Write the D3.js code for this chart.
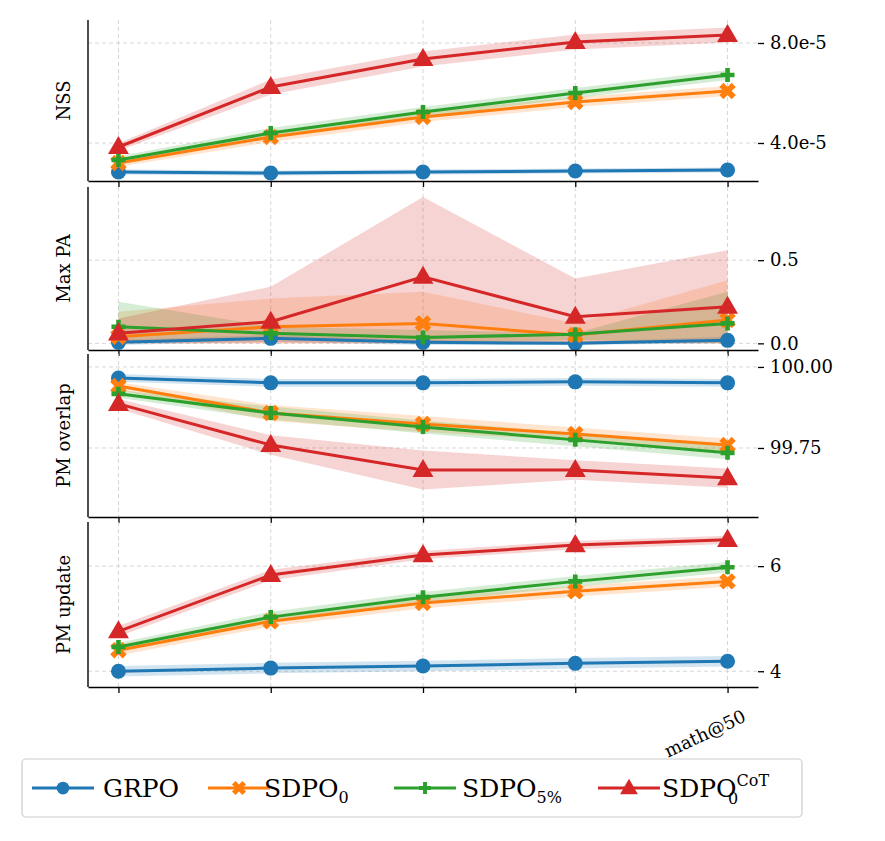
<!DOCTYPE html>
<html><head><meta charset="utf-8">
<script src="https://cdn.jsdelivr.net/npm/d3@7/dist/d3.min.js"></script>
<style>body{margin:0;background:#fff}text{font-family:"DejaVu Serif",serif}</style>
</head><body><svg id="c" width="885" height="841"></svg>
<script>
const steps = [0,1,2,3,4];
const xTickLabels = ["","","","","math@50"];
const seriesNames = ["GRPO","SDPO0","SDPO5","SDPOCoT"];
const colors = ["#1f77b4","#ff7f0e","#2ca02c","#d62728"];
const markers = ["circle","x","plus","triangle"];
// NSS
const nssMean = [[2.84e-5,2.8e-5,2.84e-5,2.88e-5,2.92e-5],[3.2e-5,4.24e-5,5.04e-5,5.64e-5,6.08e-5],[3.32e-5,4.4e-5,5.24e-5,6.0e-5,6.72e-5],[3.84e-5,6.24e-5,7.36e-5,8.04e-5,8.32e-5]];
const nssErr = [[0.1e-5,0.1e-5,0.1e-5,0.1e-5,0.1e-5],[0.15e-5,0.2e-5,0.2e-5,0.2e-5,0.2e-5],[0.15e-5,0.2e-5,0.2e-5,0.2e-5,0.2e-5],[0.15e-5,0.3e-5,0.3e-5,0.3e-5,0.3e-5]];
// Max PA
const paMean = [[0.006,0.03,0.006,0.0,0.018],[0.04,0.1,0.12,0.05,0.14],[0.1,0.06,0.035,0.055,0.12],[0.06,0.13,0.40,0.16,0.22]];
const paLow = [[-0.01,0.01,-0.01,-0.01,0.0],[0.0,0.0,0.0,0.0,0.0],[0.0,0.02,0.0,0.02,0.0],[0.0,0.0,0.0,0.0,0.0]];
const paHigh = [[0.02,0.05,0.02,0.01,0.04],[0.19,0.27,0.31,0.12,0.38],[0.25,0.1,0.08,0.06,0.31],[0.15,0.34,0.88,0.39,0.56]];
// PM overlap
const ovMean = [[99.966,99.951,99.951,99.954,99.951],[99.941,99.858,99.824,99.793,99.759],[99.917,99.858,99.815,99.775,99.735],[99.886,99.759,99.682,99.682,99.657]];
const ovErr = [[0.012,0.012,0.012,0.012,0.012],[0.012,0.025,0.025,0.02,0.02],[0.012,0.02,0.02,0.02,0.02],[0.015,0.03,0.06,0.03,0.03]];
// PM update
const upMean = [[4.0,4.06,4.1,4.15,4.19],[4.4,4.95,5.3,5.52,5.71],[4.46,5.03,5.41,5.71,5.98],[4.76,5.83,6.21,6.4,6.5]];
const upErr = [[0.1,0.1,0.1,0.1,0.1],[0.1,0.1,0.1,0.1,0.1],[0.08,0.1,0.1,0.1,0.1],[0.1,0.1,0.08,0.08,0.08]];

const panels = [
 {label:"NSS", top:20, bot:181, dom:[2.48e-5,8.92e-5], ticks:[4e-5,8e-5], fmt:d=>(d/1e-5).toFixed(1)+"e-5",
  mean:nssMean, lo:nssMean.map((s,i)=>s.map((v,j)=>v-nssErr[i][j])), hi:nssMean.map((s,i)=>s.map((v,j)=>v+nssErr[i][j]))},
 {label:"Max PA", top:187, bot:350, dom:[-0.04,0.94], ticks:[0,0.5], fmt:d=>d.toFixed(1), mean:paMean, lo:paLow, hi:paHigh},
 {label:"PM overlap", top:354, bot:517, dom:[99.537,100.04], ticks:[99.75,100], fmt:d=>d.toFixed(2),
  mean:ovMean, lo:ovMean.map((s,i)=>s.map((v,j)=>v-ovErr[i][j])), hi:ovMean.map((s,i)=>s.map((v,j)=>v+ovErr[i][j]))},
 {label:"PM update", top:522, bot:687, dom:[3.7,6.84], ticks:[4,6], fmt:d=>d3.format("d")(d),
  mean:upMean, lo:upMean.map((s,i)=>s.map((v,j)=>v-upErr[i][j])), hi:upMean.map((s,i)=>s.map((v,j)=>v+upErr[i][j]))}
];
const svg = d3.select("#c");
const x = d3.scaleLinear().domain([-0.2,4.2]).range([88,758]);
function marker(g,type,col,cx,cy,s){
  if(type==="circle") g.append("circle").attr("cx",cx).attr("cy",cy).attr("r",7.5*s).attr("fill",col);
  else if(type==="triangle") g.append("path").attr("d",d3.symbol(d3.symbolTriangle,190*s*s)()).attr("transform",`translate(${cx},${cy+1})`).attr("fill",col);
  else if(type==="plus") g.append("path").attr("d",`M-7,-2.3H-2.3V-7H2.3V-2.3H7V2.3H2.3V7H-2.3V2.3H-7Z`).attr("transform",`translate(${cx},${cy}) scale(${s})`).attr("fill",col);
  else g.append("path").attr("d",d3.symbol(d3.symbolCross,170*s*s)()).attr("transform",`translate(${cx},${cy}) rotate(45)`).attr("fill",col);
}
panels.forEach((p,pi)=>{
  const y = d3.scaleLinear().domain(p.dom).range([p.bot,p.top]);
  const g = svg.append("g");
  steps.forEach(s=>g.append("line").attr("x1",x(s)).attr("x2",x(s)).attr("y1",p.top).attr("y2",p.bot).attr("stroke","#ccc").attr("stroke-dasharray","4,3").attr("stroke-width",0.8));
  p.ticks.forEach(t=>g.append("line").attr("x1",88).attr("x2",758).attr("y1",y(t)).attr("y2",y(t)).attr("stroke","#ccc").attr("stroke-dasharray","4,3").attr("stroke-width",0.8));
  p.mean.forEach((m,si)=>{
    const area = d3.area().x((d,j)=>x(j)).y0((d,j)=>y(p.lo[si][j])).y1((d,j)=>y(p.hi[si][j]));
    g.append("path").datum(m).attr("d",area).attr("fill",colors[si]).attr("opacity",0.2);
  });
  p.mean.forEach((m,si)=>{
    g.append("path").datum(m).attr("d",d3.line().x((d,j)=>x(j)).y(d=>y(d))).attr("fill","none").attr("stroke",colors[si]).attr("stroke-width",3);
    m.forEach((v,j)=>marker(g,markers[si],colors[si],x(j),y(v),1));
  });
  const ra = d3.axisRight(y).tickValues(p.ticks).tickFormat(p.fmt).tickSize(6).tickPadding(6);
  const rg = g.append("g").attr("transform","translate(758,0)").call(ra);
  rg.select(".domain").remove();
  rg.selectAll("text").attr("font-size",18).attr("font-family","DejaVu Serif");
  rg.selectAll("line").attr("stroke-width",1.3);
  const bx = d3.axisBottom(x).tickValues(steps).tickFormat((d,i)=>pi===3?xTickLabels[i]:"").tickSize(6).tickSizeOuter(0);
  const bg = g.append("g").attr("transform",`translate(0,${p.bot})`).call(bx);
  bg.select(".domain").attr("stroke-width",1.4);
  bg.selectAll("line").attr("stroke-width",1.3);
  bg.selectAll("text").attr("font-size",18).attr("font-family","DejaVu Serif").attr("text-anchor","end").attr("transform","translate(10,14) rotate(-25)");
  g.append("line").attr("x1",88).attr("x2",88).attr("y1",p.top).attr("y2",p.bot).attr("stroke","#000").attr("stroke-width",1.4);
  g.append("text").attr("transform",`translate(70,${(p.top+p.bot)/2}) rotate(-90)`).attr("text-anchor","middle").attr("font-size",18).text(p.label);
});
// legend
const lg = svg.append("g");
lg.append("rect").attr("x",22).attr("y",759).attr("width",780).attr("height",58).attr("rx",4).attr("fill","#fff").attr("stroke","#ccc").attr("stroke-width",1.2);
const labels = [["GRPO",null,null],["SDPO","0",null],["SDPO","5%",null],["SDPO","0","CoT"]];
[[32,103],[208,264],[394,462],[598,662]].forEach((a,i)=>{
  const cy = 788;
  lg.append("line").attr("x1",a[0]).attr("x2",a[0]+62).attr("y1",cy).attr("y2",cy).attr("stroke",colors[i]).attr("stroke-width",3);
  marker(lg,markers[i],colors[i],a[0]+31,cy,0.85);
  const t = lg.append("text").attr("x",a[1]).attr("y",cy+9).attr("font-size",25).attr("font-family","Liberation Serif");
  t.append("tspan").text(labels[i][0]);
  if(labels[i][2]){
    t.append("tspan").attr("font-size",16).attr("dy",-11).text(labels[i][2]);
    lg.append("text").attr("x",a[1]+66).attr("y",cy+16).attr("font-size",16).attr("font-family","Liberation Serif").text(labels[i][1]);
  } else if(labels[i][1]) t.append("tspan").attr("font-size",16).attr("dy",6).text(labels[i][1]);
});
</script></body></html>
